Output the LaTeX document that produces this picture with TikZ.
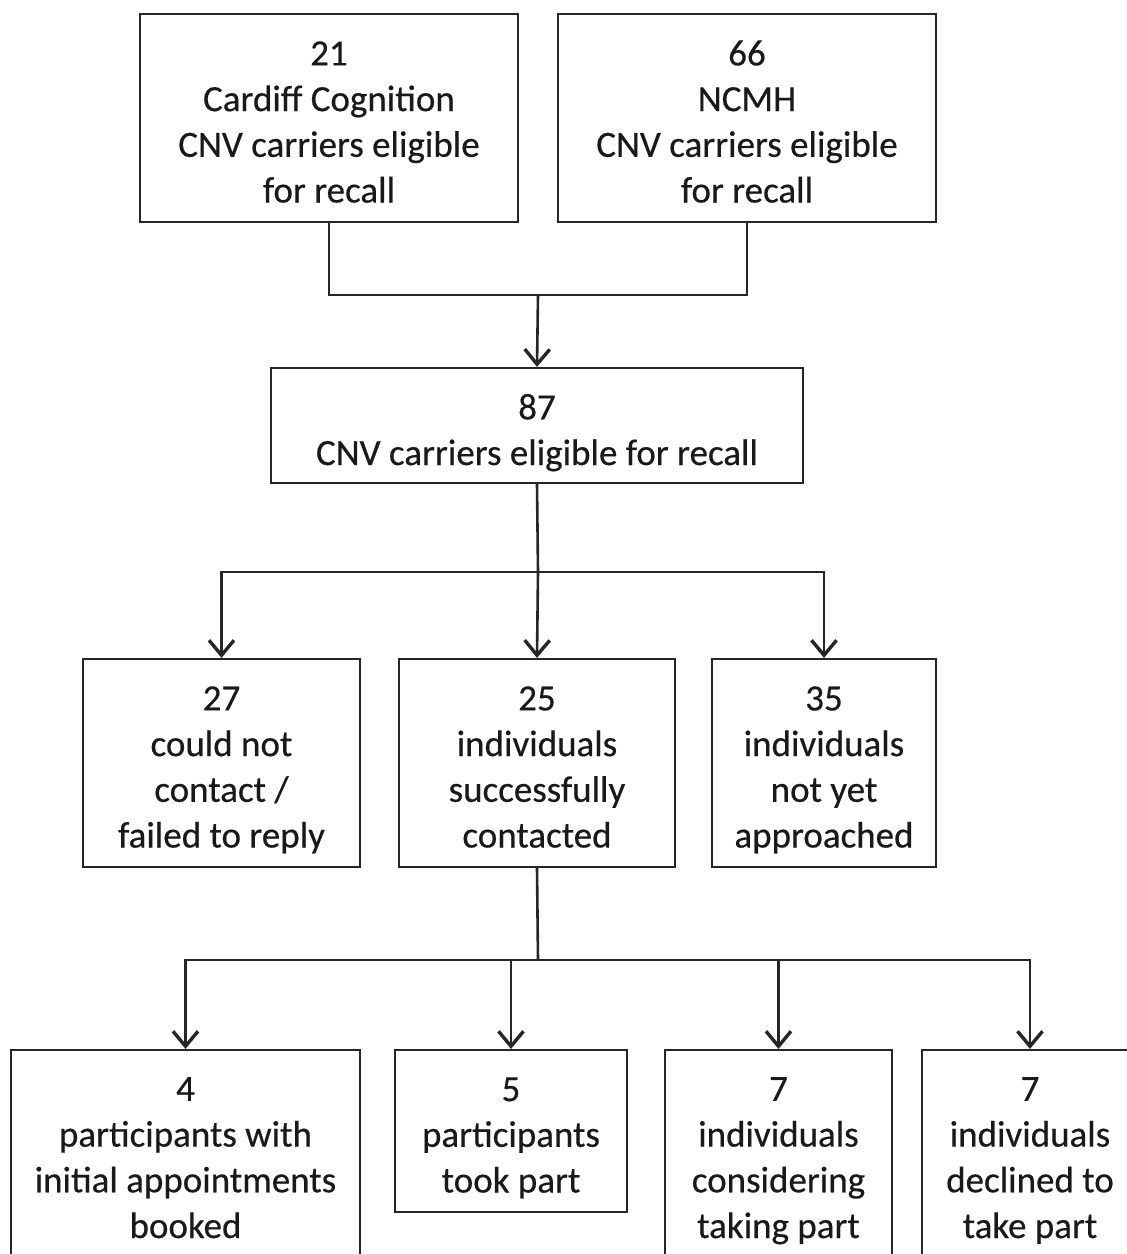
\documentclass[tikz,border=0pt]{standalone}
\usepackage{fontspec}
\setmainfont{Carlito}
\newfontfamily\boxfont{Carlito}[FakeBold=0.4]
\usetikzlibrary{arrows.meta}
\begin{document}
\begin{tikzpicture}[x=1pt,y=-1pt,
  box/.style={draw=black!85, line width=2.2pt, rectangle, align=center, inner sep=0pt,
    text depth=0pt, font=\boxfont\fontsize{37}{45.7}\selectfont, text=black!90},
  link/.style={draw=black!85, line width=2.6pt},
  flow/.style={link, -{Straight Barb[length=15pt,width=25pt,line width=3.4pt]}}]
\useasboundingbox (0,0) rectangle (1127,1254);
\fill[white] (0,0) rectangle (1127,1254);
% sources
\node[box, minimum width=378pt, minimum height=208pt, text height=169pt] (cc) at (329,118)
  {21\\Cardiff Cognition\\CNV carriers eligible\\for recall};
\node[box, minimum width=378pt, minimum height=208pt, text height=169pt] (nc) at (747,118)
  {66\\NCMH\\CNV carriers eligible\\for recall};
% pooled
\node[box, minimum width=532pt, minimum height=115pt, text height=79pt] (all) at (537,425.5)
  {87\\CNV carriers eligible for recall};
% contact outcome
\node[box, minimum width=277pt, minimum height=208pt, text height=169pt] (nocon) at (221.5,763)
  {27\\could not\\contact /\\failed to reply};
\node[box, minimum width=276pt, minimum height=208pt, text height=169pt] (con) at (537,763)
  {25\\individuals\\successfully\\contacted};
\node[box, minimum width=224pt, minimum height=208pt, text height=169pt] (notyet) at (824,763)
  {35\\individuals\\not yet\\approached};
% follow-up
\node[box, minimum width=349pt, minimum height=226pt, text height=150pt] (booked) at (185.5,1163)
  {4\\participants with\\initial appointments\\booked};
\node[box, minimum width=232pt, minimum height=162pt, text height=123pt] (took) at (511,1131)
  {5\\participants\\took part};
\node[box, minimum width=227pt, minimum height=226pt, text height=150pt] (cons) at (778.5,1163)
  {7\\individuals\\considering\\taking part};
\node[box, minimum width=216pt, minimum height=226pt, text height=150pt] (decl) at (1030,1163)
  {7\\individuals\\declined to\\take part};
% junctions
\coordinate (j1) at (538,295);
\coordinate (j2) at (538,572);
\coordinate (j3) at (538,960);
% connectors
\draw[link] (cc.south) |- (j1) -| (nc.south);
\draw[flow] (j1) -- (all.north);
\draw[link] (all.south) -- (j2);
\draw[flow] (j2) -| (nocon.north);
\draw[flow] (j2) -- (con.north);
\draw[flow] (j2) -| (notyet.north);
\draw[link] (con.south) -- (j3);
\draw[flow] (j3) -| (booked.north);
\draw[flow] (j3) -| (took.north);
\draw[flow] (j3) -| (cons.north);
\draw[flow] (j3) -| (decl.north);
\end{tikzpicture}
\end{document}
